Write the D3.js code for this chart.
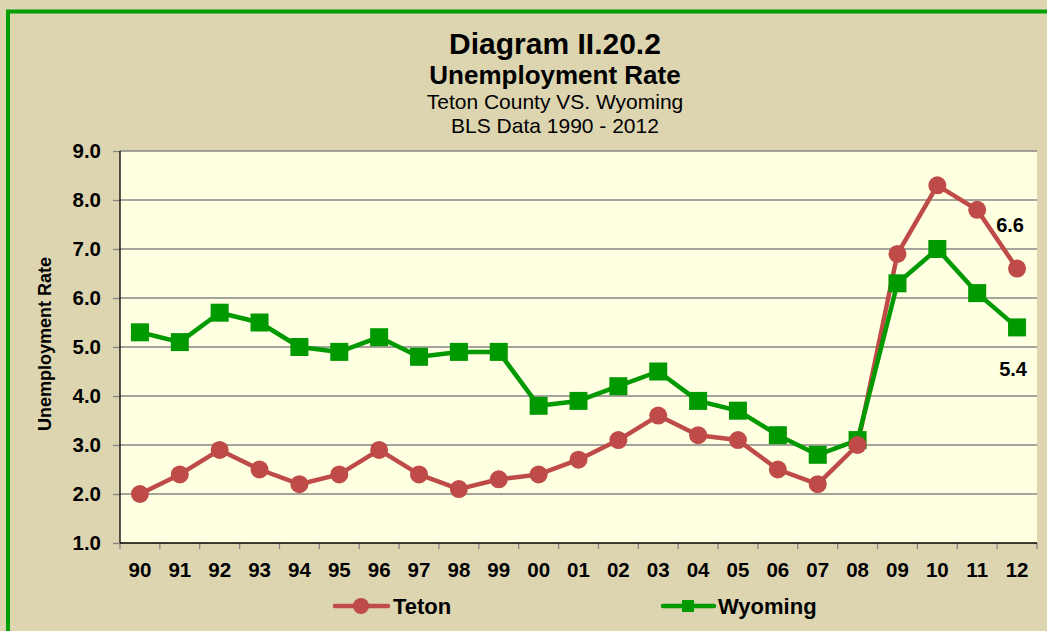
<!DOCTYPE html>
<html>
<head>
<meta charset="utf-8">
<script src="https://cdn.jsdelivr.net/npm/d3@7"></script>
<style>
  body { margin: 0; background: #ddd5b0; }
  text { font-family: "Liberation Sans", Arial, sans-serif; fill: #000; }
</style>
</head>
<body>
<div id="chart"></div>
<script>
// DATA--------------------
var years = ["90","91","92","93","94","95","96","97","98","99","00","01",
             "02","03","04","05","06","07","08","09","10","11","12"];
var teton = [2.0,2.4,2.9,2.5,2.2,2.4,2.9,2.4,2.1,2.3,2.4,2.7,
             3.1,3.6,3.2,3.1,2.5,2.2,3.0,6.9,8.3,7.8,6.6];
var wyoming = [5.3,5.1,5.7,5.5,5.0,4.9,5.2,4.8,4.9,4.9,3.8,3.9,
               4.2,4.5,3.9,3.7,3.2,2.8,3.1,6.3,7.0,6.1,5.4];
var yTicks = [1,2,3,4,5,6,7,8,9];

var red = "#be4b48";
var green = "#009900";

//SET BOUNDARIES--------------------
var svgWidth = 1047;
var svgHeight = 631;
var margin = { top: 151, right: 10, bottom: 88, left: 120 };
var width = 1037 - margin.left;
var height = svgHeight - margin.top - margin.bottom;

var svg = d3.select("#chart")
    .append("svg")
    .attr("width", svgWidth)
    .attr("height", svgHeight);

// outer background + green frame
svg.append("rect")
    .attr("x", 0).attr("y", 0)
    .attr("width", svgWidth).attr("height", svgHeight)
    .attr("fill", "#ddd5b0");
svg.append("rect")
    .attr("x", 8).attr("y", 11.5)
    .attr("width", svgWidth + 20).attr("height", svgHeight + 20)
    .attr("fill", "none")
    .attr("stroke", "#00a000")
    .attr("stroke-width", 4);

// titles
var cx = 555;
svg.append("text").attr("x", cx).attr("y", 54).attr("text-anchor", "middle")
    .attr("font-size", 30).attr("font-weight", "bold").text("Diagram II.20.2");
svg.append("text").attr("x", cx).attr("y", 84).attr("text-anchor", "middle")
    .attr("font-size", 26).attr("font-weight", "bold").text("Unemployment Rate");
svg.append("text").attr("x", cx).attr("y", 109).attr("text-anchor", "middle")
    .attr("font-size", 21).text("Teton County VS. Wyoming");
svg.append("text").attr("x", cx).attr("y", 133).attr("text-anchor", "middle")
    .attr("font-size", 21).text("BLS Data 1990 - 2012");

var plot = svg.append("g")
    .attr("transform", `translate(${margin.left}, ${margin.top})`);

// scales
var xScale = d3.scaleBand().domain(years).range([0, width]);
var yScale = d3.scaleLinear().domain([1, 9]).range([height, 0]);
var xc = d => xScale(d) + xScale.bandwidth() / 2;

// plot area
plot.append("rect")
    .attr("width", width).attr("height", height)
    .attr("fill", "#ffffe2");

// gridlines
plot.selectAll("line.grid")
    .data(yTicks.slice(1))
    .enter()
    .append("line")
    .attr("x1", 0).attr("x2", width)
    .attr("y1", d => yScale(d)).attr("y2", d => yScale(d))
    .attr("stroke", "#868686")
    .attr("stroke-width", 1.3);

// y axis
var leftAxis = d3.axisLeft(yScale)
    .tickValues(yTicks)
    .tickFormat(d3.format(".1f"))
    .tickSize(7)
    .tickPadding(12);
var yAxis = plot.append("g").call(leftAxis);
yAxis.select(".domain").remove();
yAxis.selectAll(".tick line").attr("stroke", "#868686").attr("stroke-width", 1.3);
yAxis.selectAll(".tick text")
    .attr("font-size", 20.5).attr("font-weight", "bold")
    .attr("font-family", "Liberation Sans, Arial, sans-serif");
plot.append("line")
    .attr("x1", 0).attr("x2", 0).attr("y1", 0).attr("y2", height)
    .attr("stroke", "#000").attr("stroke-width", 1.3);

// x axis
var bottomAxis = d3.axisBottom(xScale).tickSize(0).tickPadding(19);
var xAxis = plot.append("g")
    .attr("transform", `translate(0, ${height})`)
    .call(bottomAxis);
xAxis.select(".domain").remove();
xAxis.selectAll(".tick text")
    .attr("font-size", 20.5).attr("font-weight", "bold")
    .attr("font-family", "Liberation Sans, Arial, sans-serif");
xAxis.selectAll("line.bnd")
    .data(d3.range(years.length + 1))
    .enter()
    .append("line")
    .attr("x1", i => i * xScale.bandwidth()).attr("x2", i => i * xScale.bandwidth())
    .attr("y1", 0).attr("y2", 6)
    .attr("stroke", "#868686").attr("stroke-width", 1.3);
plot.append("line")
    .attr("x1", 0).attr("x2", width).attr("y1", height).attr("y2", height)
    .attr("stroke", "#000").attr("stroke-width", 1.3);

// y axis title
svg.append("text")
    .attr("transform", "translate(51, 344) rotate(-90)")
    .attr("text-anchor", "middle")
    .attr("font-size", 18).attr("font-weight", "bold")
    .text("Unemployment Rate");

var line = d3.line()
    .x((d, i) => xc(years[i]))
    .y(d => yScale(d));

// Teton
plot.append("path")
    .attr("d", line(teton))
    .attr("fill", "none").attr("stroke", red)
    .attr("stroke-width", 4.5).attr("stroke-linejoin", "round");
// Wyoming
plot.append("path")
    .attr("d", line(wyoming))
    .attr("fill", "none").attr("stroke", green)
    .attr("stroke-width", 4.5).attr("stroke-linejoin", "round");

plot.selectAll("rect.wy")
    .data(wyoming)
    .enter()
    .append("rect")
    .attr("x", (d, i) => xc(years[i]) - 9)
    .attr("y", d => yScale(d) - 9)
    .attr("width", 18).attr("height", 18)
    .attr("fill", green);

plot.selectAll("circle.tet")
    .data(teton)
    .enter()
    .append("circle")
    .attr("cx", (d, i) => xc(years[i]))
    .attr("cy", d => yScale(d))
    .attr("r", 9)
    .attr("fill", red);

// end labels
var last = years.length - 1;
plot.append("text")
    .attr("x", xc(years[last]) - 7).attr("y", yScale(teton[last]) - 37)
    .attr("text-anchor", "middle")
    .attr("font-size", 20).attr("font-weight", "bold")
    .text(teton[last].toFixed(1));
plot.append("text")
    .attr("x", xc(years[last]) - 4).attr("y", yScale(wyoming[last]) + 49)
    .attr("text-anchor", "middle")
    .attr("font-size", 20).attr("font-weight", "bold")
    .text(wyoming[last].toFixed(1));

// legend
var legend = svg.append("g");
var ly = 606;
legend.append("line").attr("x1", 335).attr("x2", 388).attr("y1", ly).attr("y2", ly)
    .attr("stroke", red).attr("stroke-width", 4.5).attr("stroke-linecap", "round");
legend.append("circle").attr("cx", 361).attr("cy", ly).attr("r", 8).attr("fill", red);
legend.append("text").attr("x", 393).attr("y", ly + 8)
    .attr("font-size", 22).attr("font-weight", "bold").text("Teton");

legend.append("line").attr("x1", 663).attr("x2", 714).attr("y1", ly).attr("y2", ly)
    .attr("stroke", green).attr("stroke-width", 4.5).attr("stroke-linecap", "round");
legend.append("rect").attr("x", 682).attr("y", ly - 6).attr("width", 12).attr("height", 12)
    .attr("fill", green);
legend.append("text").attr("x", 718).attr("y", ly + 8)
    .attr("font-size", 22).attr("font-weight", "bold").text("Wyoming");
</script>
</body>
</html>
